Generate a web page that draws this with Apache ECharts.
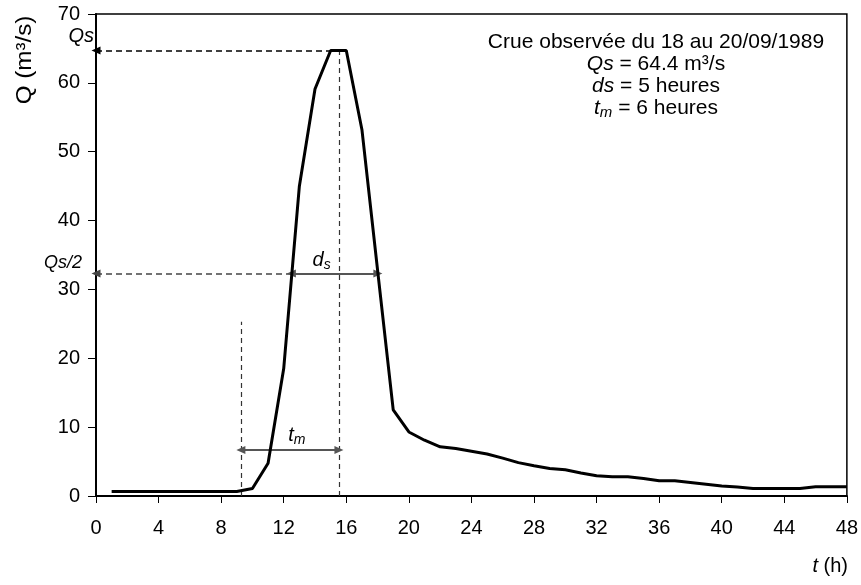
<!DOCTYPE html>
<html>
<head>
<meta charset="utf-8">
<script src="https://cdn.jsdelivr.net/npm/echarts@6/dist/echarts.min.js"></script>
<style>
html,body{margin:0;padding:0;background:#fff;}
#chart{width:861px;height:585px;}
</style>
</head>
<body>
<div id="chart"></div>
<script>
// ---- data ----
const hours = [1,2,3,4,5,6,7,8,9,10,11,12,13,14,15,16,17,18,19,20,21,22,23,24,
               25,26,27,28,29,30,31,32,33,34,35,36,37,38,39,40,41,42,43,44,45,46,47,48];
const discharge = [0.65,0.65,0.65,0.65,0.65,0.65,0.65,0.65,0.65,1.1,4.75,18.5,45,59.1,64.7,64.7,
                   53.2,32.8,12.5,9.3,8.1,7.15,6.9,6.5,6.1,5.5,4.85,4.4,4.0,3.8,3.35,2.95,
                   2.8,2.8,2.55,2.2,2.2,1.95,1.7,1.45,1.3,1.1,1.1,1.1,1.1,1.35,1.35,1.35];
const xTicks = [0,4,8,12,16,20,24,28,32,36,40,44,48];
const yTicks = [0,10,20,30,40,50,60,70];

// annotation levels (data units)
const qsLevel = 64.7;
const qsHalfLevel = 32.3;
const peakTime = 15.53;
const riseStart = 9.26;
const riseStartTop = 25.3;
const dsStart = 12.49;
const dsEnd = 18.02;
const tmLevel = 6.68;

const infoLines = ['Crue observée du 18 au 20/09/1989', '{i|Qs} = 64.4 m³/s', '{i|ds} = 5 heures', '{i|t}{sub|m} = 6 heures'];

const FONT = 'Liberation Sans, Arial, sans-serif';
const chart = echarts.init(document.getElementById('chart'), null, {renderer:'canvas'});

const pair = a => a.map((h,i)=>[h, discharge[i]]);
const dashGray = {color:'#333', width:1.2, type:[5,4]};
const arrowGray = {color:'#555', width:2, type:'solid'};

chart.setOption({
  animation:false,
  backgroundColor:'#fff',
  grid:{left:96, right:13, top:14, bottom:89, show:true, borderColor:'#000', borderWidth:1.5, containLabel:false},
  xAxis:{
    type:'value', min:xTicks[0], max:xTicks[xTicks.length-1], interval:xTicks[1]-xTicks[0],
    axisLine:{show:true, onZero:false, lineStyle:{color:'#000', width:2}},
    axisTick:{show:true, inside:false, length:7, lineStyle:{color:'#000', width:1}},
    axisLabel:{fontSize:20, color:'#000', fontFamily:FONT, margin:22},
    splitLine:{show:false}
  },
  yAxis:{
    type:'value', min:yTicks[0], max:yTicks[yTicks.length-1], interval:yTicks[1]-yTicks[0],
    axisLine:{show:true, onZero:false, lineStyle:{color:'#000', width:2}},
    axisTick:{show:true, inside:false, length:8, lineStyle:{color:'#000', width:1}},
    axisLabel:{fontSize:20, color:'#000', fontFamily:FONT, margin:16},
    splitLine:{show:false}
  },
  series:[
    {
      type:'line', data:pair(hours), symbol:'none', z:5,
      lineStyle:{color:'#000', width:3}, silent:true,
      markLine:{
        silent:true, animation:false, z:3,
        label:{show:false},
        symbolSize:[8,9],
        data:[
          [{coord:[0,qsLevel], symbol:'triangle', lineStyle:{color:'#000', width:1.5, type:[6,4]}}, {coord:[peakTime,qsLevel], symbol:'none'}],
          [{coord:[peakTime,0], symbol:'none', lineStyle:dashGray}, {coord:[peakTime,qsLevel], symbol:'none'}],
          [{coord:[riseStart,0], symbol:'none', lineStyle:dashGray}, {coord:[riseStart,riseStartTop], symbol:'none'}],
          [{coord:[0,qsHalfLevel], symbol:'triangle', lineStyle:{color:'#444', width:1.5, type:[6,4]}}, {coord:[dsStart,qsHalfLevel], symbol:'none'}],
          [{coord:[dsStart,qsHalfLevel], symbol:'triangle', lineStyle:arrowGray}, {coord:[dsEnd,qsHalfLevel], symbol:'triangle'}],
          [{coord:[riseStart,tmLevel], symbol:'triangle', lineStyle:arrowGray}, {coord:[peakTime,tmLevel], symbol:'triangle'}]
        ]
      }
    }
  ]
});

function px(x,y){ return chart.convertToPixel({gridIndex:0},[x,y]); }
const pQs = px(0,qsLevel), pHalf = px(0,qsHalfLevel);
const pDs = px((dsStart+dsEnd)/2, qsHalfLevel);
const pTm = px((riseStart+peakTime)/2, tmLevel);
const richOf = size => ({
  i:{fontStyle:'italic', fontSize:size, fontFamily:FONT, color:'#000'},
  sub:{fontStyle:'italic', fontSize:Math.round(size*0.7), fontFamily:FONT, color:'#000', padding:[10,0,0,0]}
});
const rich = richOf(20);
const infoX = 656;
const infoY = [42, 64, 86, 108];
const graphics = [
  {type:'text', rotation:Math.PI/2, x:25, y:60, scaleX:1.1, style:{text:'Q (m³/s)', font:'22px '+FONT, fill:'#000', align:'center', verticalAlign:'middle'}},
  {type:'text', x:pQs[0]-2, y:pQs[1]-14, style:{text:'Qs', font:'italic 20px '+FONT, fill:'#000', align:'right', verticalAlign:'middle'}},
  {type:'text', x:pHalf[0]-14, y:pHalf[1]-11, style:{text:'Qs/2', font:'italic 18px '+FONT, fill:'#000', align:'right', verticalAlign:'middle'}},
  {type:'text', x:pDs[0]-13, y:pDs[1]-13, style:{text:'{i|d}{sub|s}', rich:rich, align:'center', verticalAlign:'middle'}},
  {type:'text', x:pTm[0]+7, y:pTm[1]-15, style:{text:'{i|t}{sub|m}', rich:rich, align:'center', verticalAlign:'middle'}},
  {type:'text', right:13, top:556, style:{text:'{i|t} (h)', rich:rich, font:'20px '+FONT, fill:'#000'}}
];
const richInfo = richOf(21);
infoLines.forEach((t,k)=>{
  graphics.push({type:'text', x:infoX, y:infoY[k], style:{text:t, rich:richInfo, font:'21px '+FONT, fill:'#000', align:'center', verticalAlign:'middle'}});
});
chart.setOption({graphic:graphics});
</script>
</body>
</html>
